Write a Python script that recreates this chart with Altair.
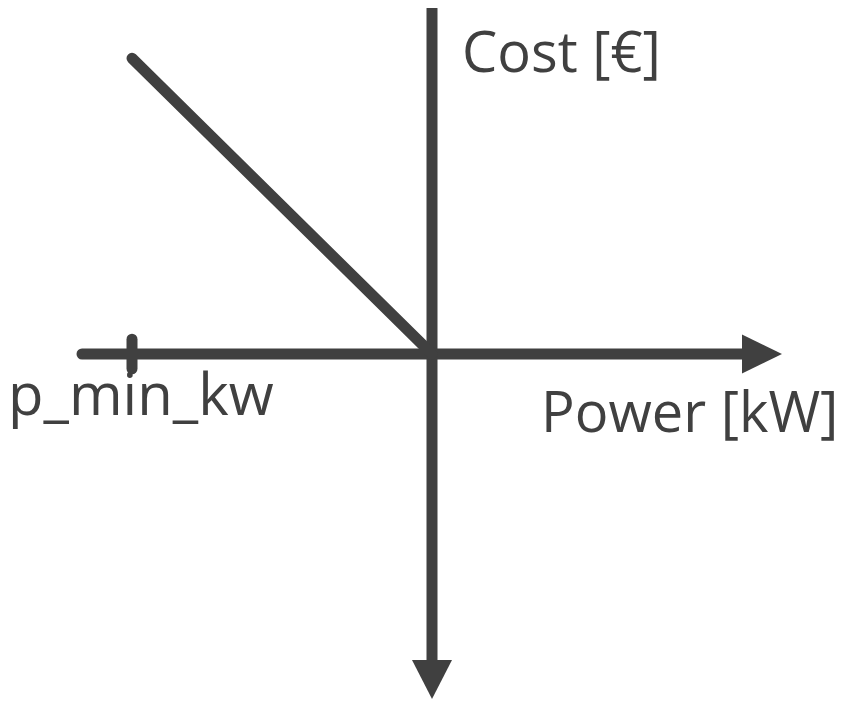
import altair as alt
import pandas as pd

# Diagram geometry in abstract units (power on x, cost on y)
seg_names = ["power_axis", "cost_axis", "p_min_tick", "cost_curve"]
seg_x1 = [-7.0, 0.0, -6.0, -6.0]
seg_y1 = [0.0, 7.0, 0.3, 6.0]
seg_x2 = [6.3, 0.0, -6.0, 0.0]
seg_y2 = [0.0, -6.25, -0.3, 0.0]

arrow_names = ["power_head", "cost_head"]
arrow_x = [7.0, 0.0]
arrow_y = [0.0, -7.0]

label_texts = ["Cost [€]", "Power [kW]", "p_min_kw"]
label_x = [0.6, 2.18, -8.48]
label_y = [5.72, -1.58, -1.24]
label_size = [56, 56, 58]

COLOR = "#404040"

segs = pd.DataFrame({"name": seg_names, "x": seg_x1, "y": seg_y1,
                     "x2": seg_x2, "y2": seg_y2})
labels = pd.DataFrame({"text": label_texts, "x": label_x, "y": label_y,
                       "size": label_size})

xs = alt.Scale(domain=[-8.48, 8.1], nice=False, zero=False)
ys = alt.Scale(domain=[-7.0, 7.02], nice=False, zero=False)
X = lambda f="x": alt.X(f"{f}:Q", scale=xs, axis=None)
Y = lambda f="y": alt.Y(f"{f}:Q", scale=ys, axis=None)

rules = alt.Chart(segs).mark_rule(
    color=COLOR, strokeWidth=11, strokeCap="round", clip=False
).encode(x=X(), y=Y(), x2="x2:Q", y2="y2:Q")

right_head = alt.Chart(pd.DataFrame({"x": [arrow_x[0]], "y": [arrow_y[0]]})).mark_point(
    shape="M0,0L-2,-0.975L-2,0.975Z", size=1600, filled=True, opacity=1,
    color=COLOR, strokeWidth=0
).encode(x=X(), y=Y())

down_head = alt.Chart(pd.DataFrame({"x": [arrow_x[1]], "y": [arrow_y[1]]})).mark_point(
    shape="M0,0L-1,-1.95L1,-1.95Z", size=1600, filled=True, opacity=1,
    color=COLOR, strokeWidth=0
).encode(x=X(), y=Y())

texts = alt.Chart(labels).mark_text(
    align="left", baseline="alphabetic", font="Open Sans", color=COLOR, clip=False
).encode(x=X(), y=Y(), text="text:N",
         size=alt.Size("size:Q", scale=None, legend=None))

chart = alt.layer(rules, right_head, down_head, texts).properties(
    width=829, height=691, padding=0, background="white",
    autosize=alt.AutoSizeParams(type="none")
).configure_view(stroke="transparent", strokeWidth=0)

chart.save("out.html", embed_options={"renderer": "svg", "actions": False})
